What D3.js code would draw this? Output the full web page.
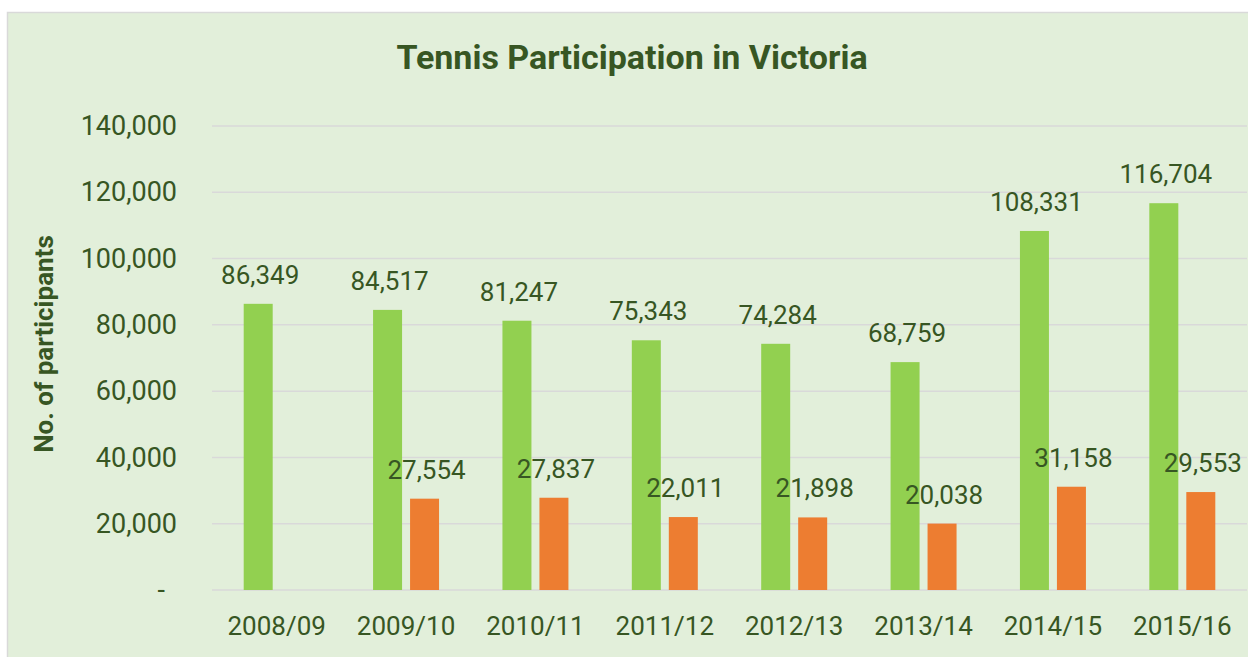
<!DOCTYPE html>
<html lang="en">
<head>
<meta charset="UTF-8">
<title>Tennis Participation in Victoria</title>
<style>
  body { margin: 0; background: #fff; }
  svg text { font-family: Roboto, "Open Sans", sans-serif; fill: #375623; }
</style>
</head>
<body>
<svg width="1248" height="657"></svg>
<script src="https://d3js.org/d3.v7.min.js"></script>
<script>
// data
var seasons = ["2008/09", "2009/10", "2010/11", "2011/12", "2012/13", "2013/14", "2014/15", "2015/16"];
var greenSeries = [86349, 84517, 81247, 75343, 74284, 68759, 108331, 116704];
var orangeSeries = [null, 27554, 27837, 22011, 21898, 20038, 31158, 29553];
var yTicks = [0, 20000, 40000, 60000, 80000, 100000, 120000, 140000];
var seriesKeys = ["green", "orange"];
var seriesColors = ["#92D050", "#ED7D31"];

var svg = d3.select("svg");
var margin = {top: 126, left: 212, right: 1, bottom: 67};
var width = 1248 - margin.left - margin.right;
var height = 657 - margin.top - margin.bottom;

// chart area background
svg.append("rect")
    .attr("x", 7.5).attr("y", 12.5)
    .attr("width", 1260).attr("height", 670)
    .attr("fill", "#E2EFDA")
    .attr("stroke", "#D9D9D9")
    .attr("stroke-width", 1.5);

var g = svg.append("g").attr("transform", "translate(" + margin.left + "," + margin.top + ")");

var x0 = d3.scaleBand().domain(seasons).range([0, width]);
var step = x0.step();
var x1 = d3.scaleBand().domain(seriesKeys)
    .range([step * 0.245, step * 0.755])
    .paddingInner(0.216);
var y = d3.scaleLinear().domain([0, 140000]).range([height, 0]);

// gridlines
g.append("g")
    .selectAll("line")
    .data(yTicks)
    .join("line")
    .attr("x1", 0).attr("x2", width)
    .attr("y1", function(d) { return y(d); })
    .attr("y2", function(d) { return y(d); })
    .attr("stroke", "#D9D9D9")
    .attr("stroke-width", 1.5);

// y axis labels
var fmt = d3.format(",");
var yAxis = d3.axisLeft(y)
    .tickValues(yTicks)
    .tickSize(0)
    .tickPadding(35)
    .tickFormat(function(d) { return d === 0 ? "-" : fmt(d); });
var yg = g.append("g").call(yAxis);
yg.select(".domain").remove();
yg.selectAll("text")
    .style("font-size", "27px")
    .attr("dx", function(d) { return d === 0 ? -12 : 0; });

// x axis labels
var xAxis = d3.axisBottom(x0).tickSize(0).tickPadding(27);
var xg = g.append("g").attr("transform", "translate(0," + height + ")").call(xAxis);
xg.select(".domain").remove();
xg.selectAll("text").style("font-size", "26px");

var rows = seasons.map(function(s, i) {
  return {season: s, values: [
    {key: "green", value: greenSeries[i]},
    {key: "orange", value: orangeSeries[i]}
  ]};
});

var groups = g.selectAll(".grp")
    .data(rows)
    .join("g")
    .attr("class", "grp")
    .attr("transform", function(d) { return "translate(" + x0(d.season) + ",0)"; });

var color = d3.scaleOrdinal().domain(seriesKeys).range(seriesColors);

groups.selectAll("rect")
    .data(function(d) { return d.values.filter(function(v) { return v.value != null; }); })
    .join("rect")
    .attr("x", function(d) { return x1(d.key); })
    .attr("width", x1.bandwidth())
    .attr("y", function(d) { return y(d.value); })
    .attr("height", function(d) { return height - y(d.value); })
    .attr("fill", function(d) { return color(d.key); });

groups.selectAll("text.val")
    .data(function(d) { return d.values.filter(function(v) { return v.value != null; }); })
    .join("text")
    .attr("class", "val")
    .attr("x", function(d) { return x1(d.key) + x1.bandwidth() / 2 + 2; })
    .attr("y", function(d) { return y(d.value) - 20; })
    .attr("text-anchor", "middle")
    .style("font-size", "26px")
    .text(function(d) { return fmt(d.value); });

// title
svg.append("text")
    .attr("x", 632).attr("y", 69)
    .attr("text-anchor", "middle")
    .style("font-size", "34px")
    .style("font-weight", "bold")
    .text("Tennis Participation in Victoria");

// y axis title
svg.append("text")
    .attr("transform", "translate(53,344) rotate(-90)")
    .attr("text-anchor", "middle")
    .style("font-size", "26px")
    .style("font-weight", "bold")
    .text("No. of participants");
</script>
</body>
</html>
